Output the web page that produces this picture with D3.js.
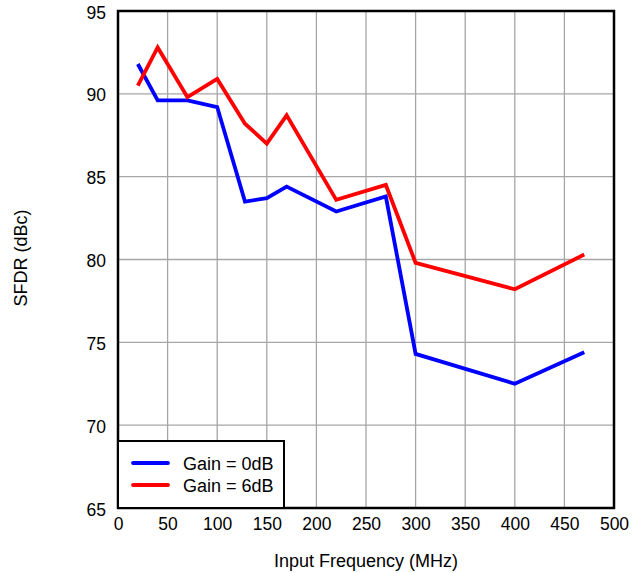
<!DOCTYPE html>
<html><head><meta charset="utf-8">
<script src="https://cdn.jsdelivr.net/npm/d3@7"></script>
<style>body{margin:0;background:#fff;} text{font-family:"Liberation Sans",Arial,sans-serif;}</style>
</head><body>
<svg id="c" width="637" height="573"></svg>
<script>
const freq = [20, 40, 70, 100, 128, 150, 170, 220, 270, 300, 400, 470];
const gain0 = [91.8, 89.6, 89.6, 89.2, 83.5, 83.7, 84.4, 82.9, 83.8, 74.3, 72.5, 74.4];
const gain6 = [90.5, 92.8, 89.8, 90.9, 88.2, 87.0, 88.7, 83.6, 84.5, 79.8, 78.2, 80.3];
const seriesNames = ["Gain = 0dB", "Gain = 6dB"];
const seriesColors = ["#0000ff", "#ff0000"];
const xTicks = [0, 50, 100, 150, 200, 250, 300, 350, 400, 450, 500];
const yTicks = [65, 70, 75, 80, 85, 90, 95];

const svg = d3.select("#c");
const L = 118, R = 614, T = 11, B = 508;
const x = d3.scaleLinear().domain([0, 500]).range([L, R]);
const y = d3.scaleLinear().domain([65, 95]).range([B, T]);

// grid
svg.append("g").selectAll("line").data(xTicks).join("line")
  .attr("x1", d => x(d)).attr("x2", d => x(d)).attr("y1", T).attr("y2", B)
  .attr("stroke", "#a6a6a6").attr("stroke-width", 1.3);
svg.append("g").selectAll("line").data(yTicks).join("line")
  .attr("x1", L).attr("x2", R).attr("y1", d => y(d)).attr("y2", d => y(d))
  .attr("stroke", "#a6a6a6").attr("stroke-width", 1.3);

// axes labels via d3 axes
const xAxis = svg.append("g").attr("transform", `translate(0,${B})`)
  .call(d3.axisBottom(x).tickValues(xTicks).tickSize(0).tickPadding(10));
xAxis.select(".domain").remove();
xAxis.selectAll("text").attr("font-size", 17.5).attr("fill", "#000")
  .attr("font-family", "Liberation Sans, Arial, sans-serif");
const yAxis = svg.append("g").attr("transform", `translate(${L},0)`)
  .call(d3.axisLeft(y).tickValues(yTicks).tickSize(0).tickPadding(12));
yAxis.select(".domain").remove();
yAxis.selectAll("text").attr("font-size", 17.5).attr("fill", "#000").attr("dy", "0.4em")
  .attr("font-family", "Liberation Sans, Arial, sans-serif");

// lines
const line = d3.line().x((d, i) => x(freq[i])).y(d => y(d));
[gain0, gain6].forEach((s, k) => {
  svg.append("path").datum(s).attr("d", line).attr("fill", "none")
    .attr("stroke", seriesColors[k]).attr("stroke-width", 3.8)
    .attr("stroke-linejoin", "miter");
});

// frame
svg.append("rect").attr("x", L).attr("y", T).attr("width", R - L).attr("height", B - T)
  .attr("fill", "none").attr("stroke", "#000").attr("stroke-width", 2.5);

// legend
const lg = svg.append("g");
lg.append("rect").attr("x", L).attr("y", 441).attr("width", 166).attr("height", B - 441)
  .attr("fill", "#fff").attr("stroke", "#000").attr("stroke-width", 2);
seriesNames.forEach((n, k) => {
  const yy = 463 + k * 22;
  lg.append("line").attr("x1", 133).attr("x2", 168).attr("y1", yy).attr("y2", yy)
    .attr("stroke", seriesColors[k]).attr("stroke-width", 3.8).attr("stroke-linecap", "round");
  lg.append("text").attr("x", 183).attr("y", yy + 7).attr("font-size", 18).text(n);
});

// titles
svg.append("text").attr("x", 366).attr("y", 567).attr("text-anchor", "middle")
  .attr("font-size", 18).text("Input Frequency (MHz)");
svg.append("text").attr("transform", "translate(27,258) rotate(-90)").attr("text-anchor", "middle")
  .attr("font-size", 18).text("SFDR (dBc)");
</script>
</body></html>
